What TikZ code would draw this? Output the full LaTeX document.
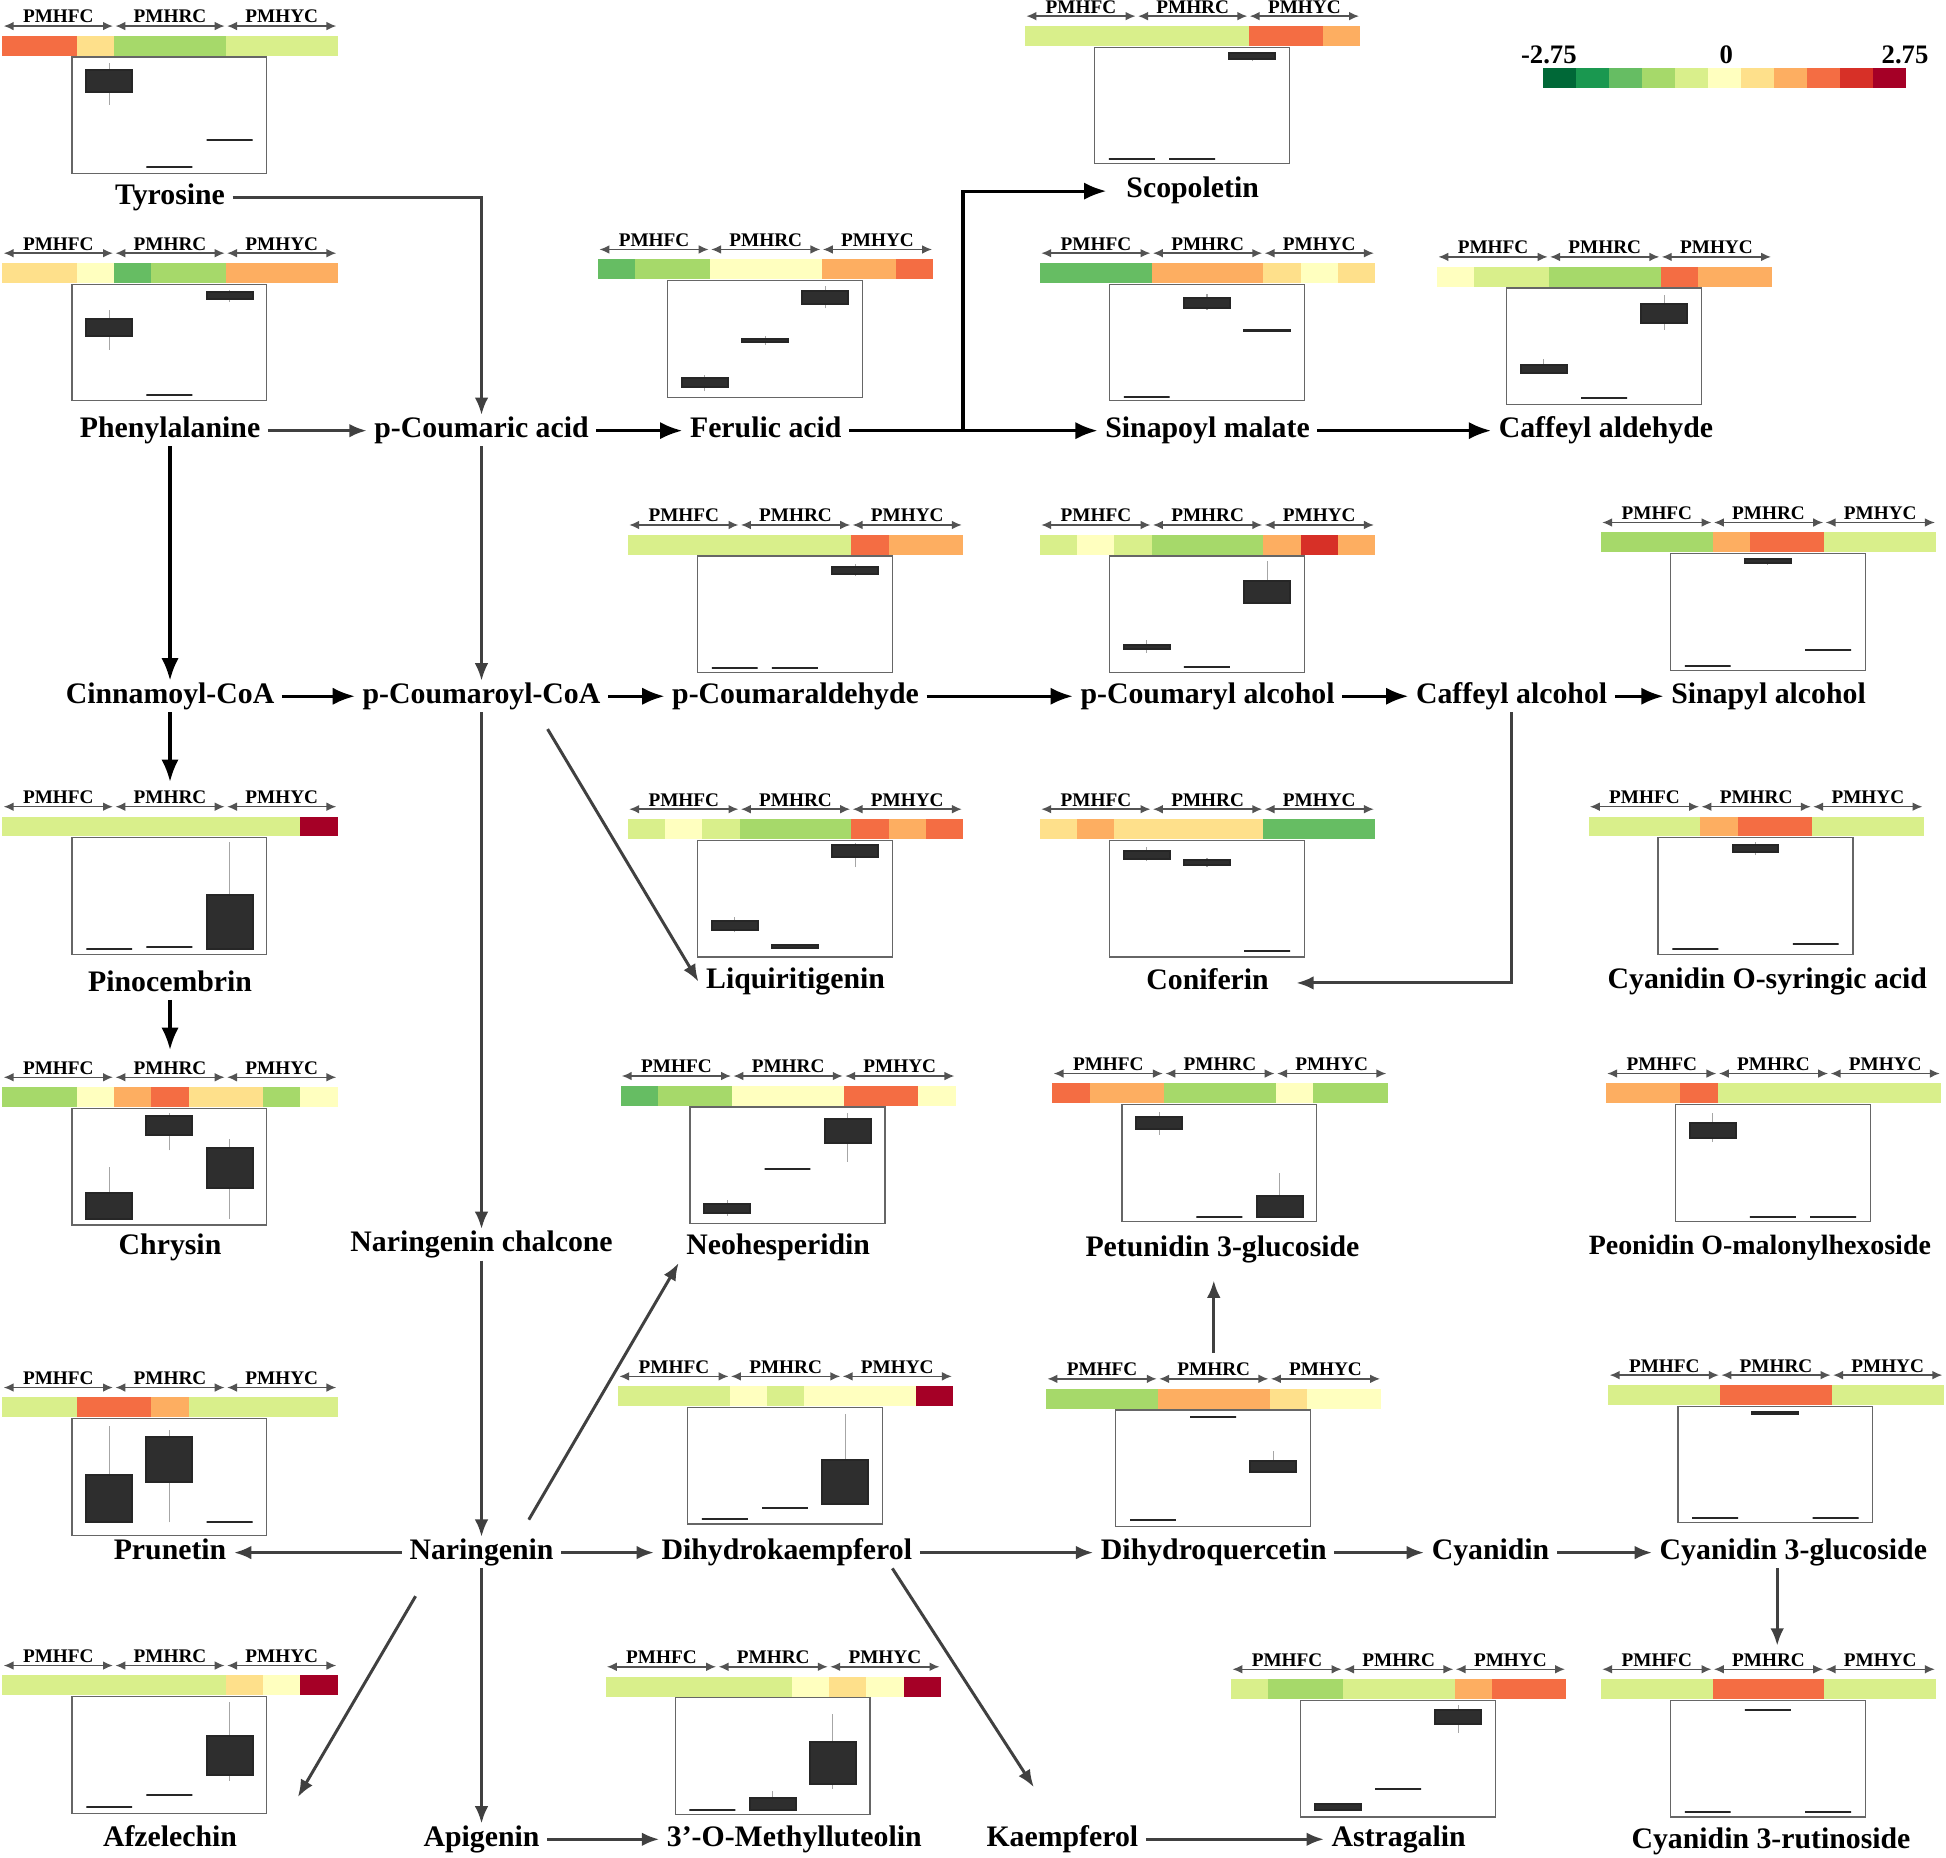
\documentclass[tikz,border=0pt]{standalone}
\usepackage{fontspec}
\setmainfont{Liberation Serif}
\usetikzlibrary{arrows.meta}
\definecolor{hm1}{HTML}{006837}
\definecolor{hm2}{HTML}{1A9850}
\definecolor{hm3}{HTML}{66BD63}
\definecolor{hm4}{HTML}{A6D96A}
\definecolor{hm5}{HTML}{D9EF8B}
\definecolor{hm6}{HTML}{FFFFBF}
\definecolor{hm7}{HTML}{FEE08B}
\definecolor{hm8}{HTML}{FDAE61}
\definecolor{hm9}{HTML}{F46D43}
\definecolor{hm10}{HTML}{D73027}
\definecolor{hm11}{HTML}{A50026}
\definecolor{arrowgray}{HTML}{404040}
\definecolor{boxdark}{HTML}{2E2E2E}

\tikzset{
  grouparrow/.style={{Latex[length=8pt,width=7pt]}-{Latex[length=8pt,width=7pt]}, draw=arrowgray!90, line width=1.2pt},
  grouplabel/.style={font={\bfseries\fontsize{15.5}{18}\selectfont}, inner sep=0pt, anchor=base},
  plotframe/.style={draw=gray!80!black, line width=1pt, fill=white},
  whisker/.style={draw=gray!70, line width=0.9pt},
  boxbar/.style={fill=boxdark, draw=black!85, line width=1.6pt}
}

\newcommand{\heatpanel}[4]{%
  \begin{scope}[shift={(#1)}]
    \foreach \grp [count=\g from 0] in {PMHFC,PMHRC,PMHYC}{
      \draw[grouparrow] (\g*90+1,-8) -- (\g*90+89,-8);
      \node[grouplabel] (#4-\g) at (\g*90+45,-10.5) {\grp};
    }
    \foreach \c [count=\i from 0] in {#2}
      \fill[\c] (\i*30,0) rectangle ++(30,16);
    \draw[plotframe] (56,17) rectangle (213,111);
    \foreach \lo/\hi/\wl/\wh [count=\k from 0] in {#3}{
      \draw[whisker] ({86+48.5*\k},{111-94*\wl}) -- ({86+48.5*\k},{111-94*\wh});
      \filldraw[boxbar] ({67.5+48.5*\k},{111-94*\lo}) rectangle ({104.5+48.5*\k},{111-94*\hi});
    }
  \end{scope}}

\begin{document}
\begin{tikzpicture}[x=1pt, y=-1pt,
    metab/.style={font={\bfseries\fontsize{24}{28}\selectfont}, inner xsep=6pt, inner ysep=2pt, text height=16pt, text depth=5pt},
    blackarrow/.style={-{Latex[length=18pt,width=14pt]}, line width=2.6pt, draw=black},
    grayarrow/.style={-{Latex[length=14pt,width=11pt]}, line width=2.4pt, draw=arrowgray},
    thinarrow/.style={-{Latex[length=14pt,width=11pt]}, line width=1.8pt, draw=arrowgray}]
  \useasboundingbox (0,0) rectangle (1568,1497);

  % legend
  \foreach \c [count=\i from 0] in {hm1,hm2,hm3,hm4,hm5,hm6,hm7,hm8,hm9,hm10,hm11}
    \fill[\c] ({1243+26.6*\i},55) rectangle ++(26.6,16);
  \node[font={\bfseries\fontsize{21.5}{24}\selectfont}, inner sep=0pt] (legmin) at (1248,44) {-2.75};
  \node[font={\bfseries\fontsize{21.5}{24}\selectfont}, inner sep=0pt] (legzero) at (1391,44) {0};
  \node[font={\bfseries\fontsize{21.5}{24}\selectfont}, inner sep=0pt] (legmax) at (1535,44) {2.75};

  % panels
  \heatpanel{2,29}{hm9,hm9,hm7,hm4,hm4,hm4,hm5,hm5,hm5}{0.70/0.89/0.59/0.95, 0.06/0.06/0.06/0.06, 0.29/0.29/0.29/0.29}{tyrp}
  \heatpanel{826,21}{hm5,hm5,hm5,hm5,hm5,hm5,hm9,hm9,hm8}{0.04/0.04/0.04/0.04, 0.04/0.04/0.04/0.04, 0.90/0.95/0.88/0.96}{scopp}
  \heatpanel{2,212}{hm7,hm7,hm6,hm3,hm4,hm4,hm8,hm8,hm8}{0.56/0.70/0.44/0.78, 0.05/0.05/0.05/0.05, 0.87/0.93/0.85/0.95}{phep}
  \heatpanel{482,209}{hm3,hm4,hm4,hm6,hm6,hm6,hm8,hm8,hm9}{0.09/0.16/0.05/0.19, 0.47/0.50/0.45/0.52, 0.80/0.91/0.76/0.95}{ferp}
  \heatpanel{838,212}{hm3,hm3,hm3,hm8,hm8,hm8,hm7,hm6,hm7}{0.03/0.03/0.03/0.03, 0.80/0.88/0.78/0.92, 0.60/0.61/0.60/0.61}{sinmp}
  \heatpanel{1158,215}{hm6,hm5,hm5,hm4,hm4,hm4,hm9,hm8,hm8}{0.27/0.34/0.27/0.39, 0.06/0.06/0.06/0.06, 0.70/0.86/0.64/0.94}{caldp}
  \heatpanel{506,431}{hm5,hm5,hm5,hm5,hm5,hm5,hm9,hm8,hm8}{0.04/0.04/0.04/0.04, 0.04/0.04/0.04/0.04, 0.85/0.91/0.83/0.93}{pcaldp}
  \heatpanel{838,431}{hm5,hm6,hm5,hm4,hm4,hm4,hm8,hm10,hm8}{0.20/0.24/0.17/0.28, 0.05/0.05/0.05/0.05, 0.60/0.79/0.60/0.96}{pcalcp}
  \heatpanel{1290,429}{hm4,hm4,hm4,hm8,hm9,hm9,hm5,hm5,hm5}{0.04/0.04/0.04/0.04, 0.92/0.95/0.90/0.96, 0.17/0.17/0.17/0.17}{sinalcp}
  \heatpanel{2,658}{hm5,hm5,hm5,hm5,hm5,hm5,hm5,hm5,hm11}{0.05/0.05/0.05/0.05, 0.06/0.06/0.06/0.06, 0.05/0.51/0.05/0.96}{pinop}
  \heatpanel{506,660}{hm5,hm6,hm5,hm4,hm4,hm4,hm9,hm8,hm9}{0.23/0.31/0.21/0.34, 0.08/0.10/0.07/0.10, 0.86/0.96/0.77/0.98}{liqp}
  \heatpanel{838,660}{hm7,hm8,hm7,hm7,hm7,hm7,hm3,hm3,hm3}{0.84/0.91/0.82/0.94, 0.79/0.83/0.77/0.85, 0.05/0.05/0.05/0.05}{conifp}
  \heatpanel{1280,658}{hm5,hm5,hm5,hm8,hm9,hm9,hm5,hm5,hm5}{0.05/0.05/0.05/0.05, 0.88/0.94/0.85/0.96, 0.09/0.09/0.09/0.09}{cyosp}
  \heatpanel{2,876}{hm4,hm4,hm6,hm8,hm9,hm7,hm7,hm4,hm6}{0.05/0.27/0.05/0.50, 0.77/0.93/0.64/0.96, 0.32/0.66/0.05/0.74}{chryp}
  \heatpanel{500,875}{hm3,hm4,hm4,hm6,hm6,hm6,hm9,hm9,hm6}{0.09/0.17/0.07/0.20, 0.47/0.47/0.47/0.47, 0.69/0.90/0.53/0.95}{neop}
  \heatpanel{848,873}{hm9,hm8,hm8,hm4,hm4,hm4,hm6,hm4,hm4}{0.79/0.89/0.74/0.94, 0.04/0.04/0.04/0.04, 0.04/0.22/0.04/0.41}{petp}
  \heatpanel{1294,873}{hm8,hm8,hm9,hm5,hm5,hm5,hm5,hm5,hm5}{0.71/0.84/0.68/0.93, 0.04/0.04/0.04/0.04, 0.04/0.04/0.04/0.04}{peop}
  \heatpanel{2,1126}{hm5,hm5,hm9,hm9,hm8,hm5,hm5,hm5,hm5}{0.11/0.52/0.11/0.94, 0.46/0.84/0.11/0.90, 0.11/0.11/0.11/0.11}{prup}
  \heatpanel{498,1117}{hm5,hm5,hm5,hm6,hm5,hm6,hm6,hm6,hm11}{0.04/0.04/0.04/0.04, 0.14/0.14/0.14/0.14, 0.17/0.55/0.17/0.94}{dhkp}
  \heatpanel{843,1119}{hm4,hm4,hm4,hm8,hm8,hm8,hm7,hm6,hm6}{0.06/0.06/0.06/0.06, 0.94/0.94/0.94/0.94, 0.47/0.56/0.47/0.65}{dhqp}
  \heatpanel{1296,1116}{hm5,hm5,hm5,hm9,hm9,hm9,hm5,hm5,hm5}{0.04/0.04/0.04/0.04, 0.93/0.95/0.93/0.95, 0.04/0.04/0.04/0.04}{cy3gp}
  \heatpanel{2,1350}{hm5,hm5,hm5,hm5,hm5,hm5,hm7,hm6,hm11}{0.05/0.05/0.05/0.05, 0.16/0.16/0.16/0.16, 0.33/0.66/0.28/0.95}{afzp}
  \heatpanel{488,1351}{hm5,hm5,hm5,hm5,hm5,hm6,hm7,hm6,hm11}{0.04/0.04/0.04/0.04, 0.04/0.14/0.04/0.20, 0.26/0.62/0.22/0.86}{mlutp}
  \heatpanel{992,1353}{hm5,hm4,hm4,hm5,hm5,hm5,hm8,hm9,hm9}{0.06/0.11/0.05/0.12, 0.24/0.24/0.24/0.24, 0.80/0.92/0.72/0.96}{astrp}
  \heatpanel{1290,1353}{hm5,hm5,hm5,hm9,hm9,hm9,hm5,hm5,hm5}{0.04/0.04/0.04/0.04, 0.92/0.92/0.92/0.92, 0.04/0.04/0.04/0.04}{cy3rp}

  % metabolites
  \node[metab] (tyr) at (137,159) {Tyrosine};
  \node[metab] (scop) at (961,154) {Scopoletin};
  \node[metab] (phe) at (137,347) {Phenylalanine};
  \node[metab] (pca) at (388,347) {p-Coumaric acid};
  \node[metab] (fer) at (617,347) {Ferulic acid};
  \node[metab] (sinm) at (973,347) {Sinapoyl malate};
  \node[metab] (cald) at (1294,347) {Caffeyl aldehyde};
  \node[metab] (cin) at (137,561) {Cinnamoyl-CoA};
  \node[metab] (pcoa) at (388,561) {p-Coumaroyl-CoA};
  \node[metab] (pcald) at (641,561) {p-Coumaraldehyde};
  \node[metab] (pcalc) at (973,561) {p-Coumaryl alcohol};
  \node[metab] (calc) at (1218,561) {Caffeyl alcohol};
  \node[metab] (sinalc) at (1425,561) {Sinapyl alcohol};
  \node[metab] (pino) at (137,793) {Pinocembrin};
  \node[metab] (liq) at (641,791) {Liquiritigenin};
  \node[metab] (conif) at (973,792) {Coniferin};
  \node[metab] (cyos) at (1424,791) {Cyanidin O-syringic acid};
  \node[metab] (chry) at (137,1005) {Chrysin};
  \node[metab] (nchal) at (388,1003) {Naringenin chalcone};
  \node[metab] (neo) at (627,1005) {Neohesperidin};
  \node[metab] (pet) at (985,1007) {Petunidin 3-glucoside};
  \node[metab, font={\bfseries\fontsize{22.5}{26}\selectfont}] (peo) at (1418,1005) {Peonidin O-malonylhexoside};
  \node[metab] (pru) at (137,1251) {Prunetin};
  \node[metab] (nar) at (388,1251) {Naringenin};
  \node[metab] (dhk) at (634,1251) {Dihydrokaempferol};
  \node[metab] (dhq) at (978,1251) {Dihydroquercetin};
  \node[metab] (cya) at (1201,1251) {Cyanidin};
  \node[metab] (cy3g) at (1445,1251) {Cyanidin 3-glucoside};
  \node[metab] (afz) at (137,1482) {Afzelechin};
  \node[metab] (api) at (388,1482) {Apigenin};
  \node[metab] (mlut) at (640,1482) {3'-O-Methylluteolin};
  \node[metab] (kae) at (856,1482) {Kaempferol};
  \node[metab] (astr) at (1127,1482) {Astragalin};
  \node[metab] (cy3r) at (1427,1484) {Cyanidin 3-rutinoside};

  \coordinate (fork) at (776,347);
  \coordinate (pinotop) at (137,630);
  \coordinate (chrytop) at (137,846);
  \coordinate (dhqtop) at (978,1090);
  \coordinate (cy3rtop) at (1432,1326);
  \coordinate (afzin) at (240,1448);
  \coordinate (kaein) at (833,1440);

  % connectors
  \draw[grayarrow] (tyr) -| (pca);
  \draw[grayarrow] (phe) -- (pca);
  \draw[blackarrow] (pca) -- (fer);
  \draw[blackarrow] (fer) -- (sinm);
  \draw[blackarrow, shorten >=10pt] (fork) |- (scop);
  \draw[blackarrow] (sinm) -- (cald);
  \draw[blackarrow] (phe) -- (cin);
  \draw[thinarrow] (pca) -- (pcoa);
  \draw[blackarrow] (cin) -- (pcoa);
  \draw[blackarrow] (pcoa) -- (pcald);
  \draw[blackarrow] (pcald) -- (pcalc);
  \draw[blackarrow] (pcalc) -- (calc);
  \draw[blackarrow] (calc) -- (sinalc);
  \draw[grayarrow, shorten >=16pt] (calc) |- (conif);
  \draw[blackarrow] (cin) -- (pinotop);
  \draw[blackarrow] (pino) -- (chrytop);
  \draw[grayarrow] (pcoa) -- (nchal);
  \draw[grayarrow, shorten <=16pt] ([xshift=45pt]pcoa.south) -- (liq.west);
  \draw[grayarrow] (nchal) -- (nar);
  \draw[grayarrow, shorten <=16pt] ([xshift=30pt]nar.north) -- (neo.south west);
  \draw[grayarrow] (nar) -- (pru);
  \draw[grayarrow] (nar) -- (dhk);
  \draw[grayarrow, shorten <=26pt] ([xshift=-40pt]nar.south) -- (afzin);
  \draw[grayarrow] (nar) -- (api);
  \draw[grayarrow] (api) -- (mlut);
  \draw[grayarrow] (dhk) -- (dhq);
  \draw[grayarrow] ([xshift=85pt]dhk.south) -- (kaein);
  \draw[grayarrow] (dhq) -- (cya);
  \draw[grayarrow, shorten >=12pt] (dhqtop) -- (pet.south -| dhqtop);
  \draw[grayarrow] (cya) -- (cy3g);
  \draw[grayarrow] (cy3g.south -| cy3rtop) -- (cy3rtop);
  \draw[grayarrow] (kae) -- (astr);
\end{tikzpicture}
\end{document}
